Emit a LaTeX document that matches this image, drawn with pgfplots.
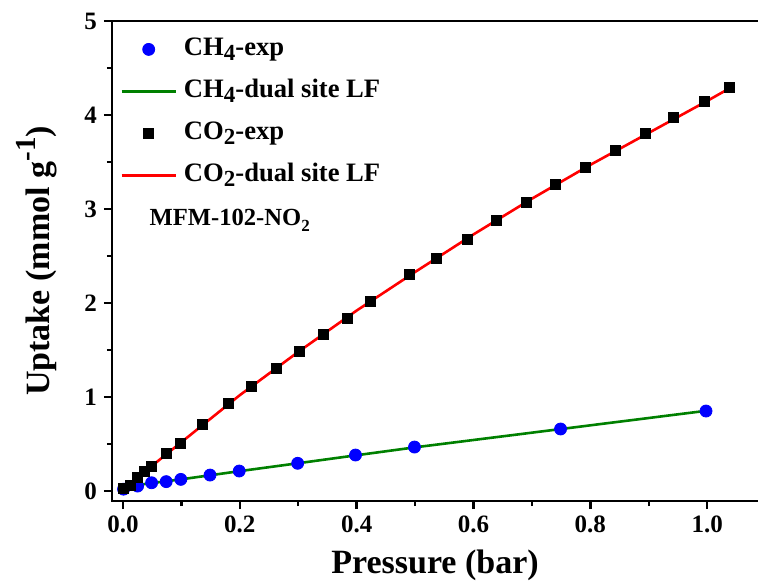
\documentclass[border=0pt]{standalone}
\usepackage{fontspec}
\setmainfont{Liberation Serif}
\usepackage{pgfplots}
\pgfplotsset{compat=1.18}
\definecolor{og}{RGB}{0,128,0}
\pgfplotsset{
  marklegend/.style={legend image code/.code={\draw[mark repeat=2,mark phase=2,##1] plot coordinates {(0pt,0pt) (13.5pt,0pt) (27pt,0pt)};}},
  linelegend/.style={legend image code/.code={\draw[##1] (0pt,0pt) -- (27pt,0pt);}},
}
\newcommand{\lsub}[1]{\raisebox{-0.45ex}{\fontsize{11.5}{11.5}\selectfont #1}}
\begin{document}
\begin{tikzpicture}
\begin{axis}[
  name=ax,
  scale only axis, width=323pt, height=240pt,
  xmin=-0.0188, xmax=1.087, ymin=-0.106, ymax=5,
  axis x line=box, axis y line=left,
  x axis line style={-}, y axis line style={-},
  axis line style={line width=1.3pt, line cap=rect},
  tick pos=left,
  xtick={0,0.2,0.4,0.6,0.8,1.0},
  minor xtick={0.1,0.3,0.5,0.7,0.9},
  ytick={0,1,2,3,4,5},
  minor ytick={0.5,1.5,2.5,3.5,4.5},
  tick align=outside,
  major tick length=4pt, minor tick length=2.5pt,
  every tick/.style={black, line width=1.2pt},
  /pgf/number format/assume math mode=true,
  tick label style={font=\bfseries\fontsize{12.5}{12.5}\selectfont},
  xticklabel style={/pgf/number format/.cd, fixed, fixed zerofill, precision=1},
  yticklabel style={/pgf/number format/.cd, fixed, precision=0},
  every axis x label/.style={at={(axis description cs:0.5,-0.1333)}, anchor=center, font=\bfseries\fontsize{17}{17}\selectfont},
  every axis y label/.style={at={(axis description cs:-0.1161,0.5)}, rotate=90, anchor=center, font=\bfseries\fontsize{17}{17}\selectfont},
  xlabel={Pressure (bar)},
  ylabel={Uptake (mmol g\raisebox{0.9ex}{\fontsize{14.5}{14.5}\selectfont -1})},
  legend style={at={(axis description cs:0,1)}, anchor=north west, xshift=4pt, yshift=-8pt,
    draw=none, fill=none, inner sep=0pt, row sep=9pt, column sep=3.5pt,
    font=\bfseries\fontsize{13.3}{13.3}\selectfont,
    nodes={inner sep=0pt, text height=9pt, text depth=3pt}},
  legend cell align=left,
]
\addplot[only marks, mark=*, mark size=3pt, color=blue, marklegend]
  coordinates {(0.001,0.02) (0.025,0.053) (0.049,0.088) (0.074,0.10) (0.099,0.124) (0.149,0.17) (0.199,0.213) (0.299,0.295) (0.398,0.383) (0.499,0.468) (0.749,0.66) (0.998,0.851)};
\addlegendentry{CH\lsub{4}-exp}
\addplot[og, line width=1.3pt, linelegend]
  coordinates {(0.022,0.062) (0.05,0.085) (0.1,0.125) (0.2,0.212) (0.3,0.296) (0.4,0.381) (0.5,0.465) (0.75,0.66) (1.0,0.855)};
\addlegendentry{CH\lsub{4}-dual site LF}
\addplot[only marks, mark=square*, mark size=2.5pt, color=black, marklegend]
  coordinates {(0.001,0.03) (0.012,0.064) (0.024,0.15) (0.036,0.205) (0.048,0.265) (0.075,0.40) (0.098,0.51) (0.136,0.71) (0.181,0.93) (0.220,1.11) (0.262,1.30) (0.302,1.49) (0.343,1.67) (0.384,1.84) (0.423,2.02) (0.491,2.30) (0.537,2.48) (0.589,2.68) (0.639,2.88) (0.690,3.07) (0.741,3.26) (0.792,3.44) (0.843,3.62) (0.894,3.80) (0.943,3.97) (0.995,4.14) (1.038,4.29)};
\addlegendentry{CO\lsub{2}-exp}
\addplot[red, line width=1.3pt, linelegend]
  coordinates {(0.003,0.03) (0.05,0.27) (0.1,0.52) (0.2,1.02) (0.3,1.48) (0.4,1.92) (0.5,2.33) (0.6,2.73) (0.7,3.11) (0.8,3.47) (0.9,3.81) (1.0,4.15) (1.04,4.29)};
\addlegendentry{CO\lsub{2}-dual site LF}
\node[anchor=west, inner sep=0pt, font=\bfseries\fontsize{12.3}{12.3}\selectfont] at (axis cs:0.045,2.88) {MFM-102-NO\raisebox{-0.5ex}{\fontsize{8.5}{8.5}\selectfont 2}};
\end{axis}
\pgfresetboundingbox
\path[use as bounding box] ([xshift=-56pt,yshift=-41.5pt]ax.south west) rectangle ([yshift=10.5pt]ax.north east);
\end{tikzpicture}
\end{document}
